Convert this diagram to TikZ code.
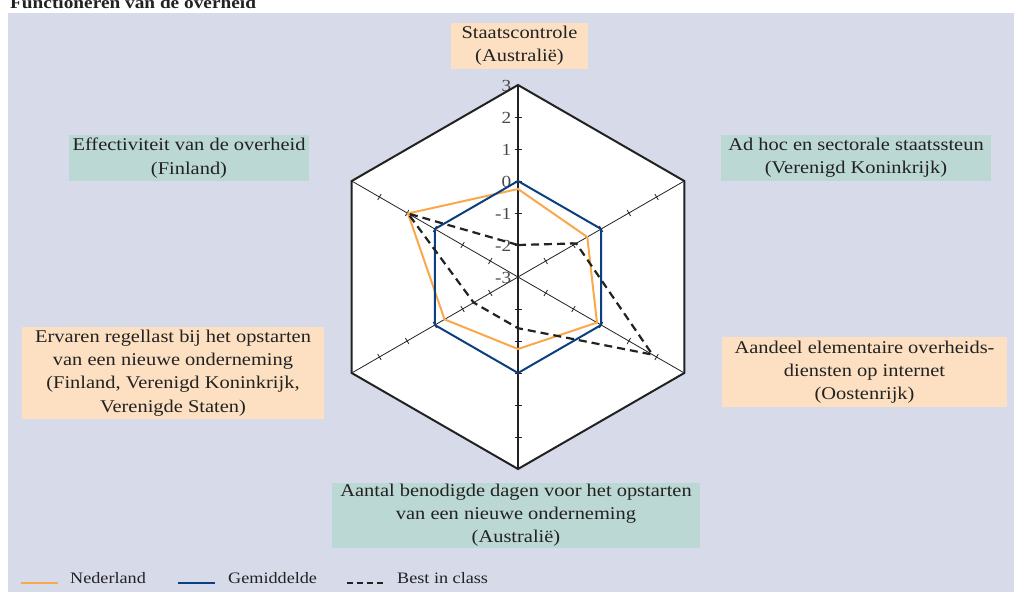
\documentclass[tikz,border=0pt]{standalone}
\usepackage{fontspec}
\setmainfont{Liberation Serif}[FakeStretch=1.14]
\usetikzlibrary{calc}

\definecolor{panel}{HTML}{D7DAE8}
\definecolor{peach}{HTML}{FDE0C2}
\definecolor{sea}{HTML}{BBD8D4}
\definecolor{nlorange}{HTML}{F9A94B}
\definecolor{avgblue}{HTML}{0B3F80}
\definecolor{inkdark}{HTML}{222222}
\definecolor{digitgray}{HTML}{4A4A4A}

\tikzset{
  labelbox/.style={inner sep=0pt, align=center, text=inkdark,
    font=\fontsize{18}{23.3}\selectfont},
  peachbox/.style={labelbox, fill=peach},
  seabox/.style={labelbox, fill=sea},
  frame/.style={line width=2bp, draw=inkdark, line join=miter},
  axisline/.style={line width=0.8bp, draw=inkdark},
  spoke/.style={line width=1.1bp, draw=inkdark},
  ticklabel/.style={inner sep=0pt, text=digitgray, font=\fontsize{17}{20}\selectfont},
  nlline/.style={line width=2bp, draw=nlorange, line join=miter},
  avgline/.style={line width=2bp, draw=avgblue, line join=miter},
  bestline/.style={line width=2.2bp, draw=inkdark, dash pattern=on 8bp off 5bp},
  legendtext/.style={inner sep=0pt, anchor=west, text=inkdark,
    font=\fontsize{16}{20}\selectfont},
}

\begin{document}
\begin{tikzpicture}[x=1bp, y=-1bp]
\useasboundingbox (0,0) rectangle (1014,592);

% panel and heading
\fill[panel] (8,13) rectangle (1014,592);
\node[inner sep=0pt, anchor=base west, font=\fontsize{17}{20}\selectfont\bfseries, text=inkdark]
  (heading) at (10,8.5) {Functioneren van de overheid};

% radar chart, centred on the value -3, one unit = 32bp
\begin{scope}[shift={(518,277)}, yscale=-1]
  \coordinate (c) at (0,0);
  \foreach \a [count=\i from 0] in {90,30,-30,-90,210,150}
    \coordinate (v\i) at (\a:192);

  \fill[white] (v0) -- (v1) -- (v2) -- (v3) -- (v4) -- (v5) -- cycle;

  % spokes with unit ticks
  \foreach \a [count=\i from 0] in {90,30,-30,-90,210,150} {
    \draw[axisline] (c) -- (v\i);
    \foreach \k in {1,...,5}
      \draw[axisline] (\a:\k*32) ++(\a+90:3.5) -- ++(\a-90:7);
  }
  \draw[spoke] (c) -- (v0);
  \draw[spoke] (c) -- (v3);

  % value labels on the upper spoke
  \foreach \v [count=\k from 0] in {-3,-2,-1,0,1,2,3}
    \node[ticklabel, anchor=east] (lab\k) at (-6.5,\k*32-1) {\v};

  % data points: radius = (value + 3) * 32
  \foreach \a/\v [count=\i from 0] in {90/-0.25,30/-0.5,-30/-0.15,-90/-0.75,210/-0.35,150/0.97}
    \coordinate (n\i) at (\a:{(\v+3)*32});
  \foreach \a [count=\i from 0] in {90,30,-30,-90,210,150}
    \coordinate (g\i) at (\a:96);
  \foreach \a/\v [count=\i from 0] in {90/-2,30/-0.9,-30/1.85,-90/-1.4,210/-1.4,150/0.97}
    \coordinate (b\i) at (\a:{(\v+3)*32});

  \draw[nlline] (n0) -- (n1) -- (n2) -- (n3) -- (n4) -- (n5) -- cycle;
  \draw[avgline] (g0) -- (g1) -- (g2) -- (g3) -- (g4) -- (g5) -- cycle;
  \draw[bestline] (b0) -- (b1) -- (b2) -- (b3) -- (b4) -- (b5) -- cycle;

  \draw[frame] (v0) -- (v1) -- (v2) -- (v3) -- (v4) -- (v5) -- cycle;
\end{scope}

% axis titles
\node[peachbox, minimum width=137bp, minimum height=46bp] (t0) at (519.5,46)
  {Staatscontrole\\(Australië)};
\node[seabox, minimum width=270bp, minimum height=46bp] (t1) at (856,158)
  {Ad hoc en sectorale staatssteun\\(Verenigd Koninkrijk)};
\node[peachbox, minimum width=285bp, minimum height=70bp] (t2) at (864.5,372)
  {Aandeel elementaire overheids-\\diensten op internet\\(Oostenrijk)};
\node[seabox, minimum width=368bp, minimum height=65bp] (t3) at (516,515)
  {Aantal benodigde dagen voor het opstarten\\van een nieuwe onderneming\\(Australië)};
\node[peachbox, minimum width=302bp, minimum height=92bp] (t4) at (173,373)
  {Ervaren regellast bij het opstarten\\van een nieuwe onderneming\\(Finland, Verenigd Koninkrijk,\\Verenigde Staten)};
\node[seabox, minimum width=240bp, minimum height=46bp] (t5) at (189,158)
  {Effectiviteit van de overheid\\(Finland)};

% legend
\coordinate (l1a) at (21,583);  \coordinate (l1b) at (58,583);
\coordinate (l2a) at (178,583); \coordinate (l2b) at (215,583);
\coordinate (l3a) at (347,583); \coordinate (l3b) at (384,583);
\draw[nlline] (l1a) -- (l1b);
\draw[avgline] (l2a) -- (l2b);
\draw[line width=1.6bp, draw=inkdark, dash pattern=on 6bp off 4bp] (l3a) -- (l3b);
\node[legendtext] (k1) at (70,578) {Nederland};
\node[legendtext] (k2) at (228,578) {Gemiddelde};
\node[legendtext] (k3) at (397,578) {Best in class};
\end{tikzpicture}
\end{document}
